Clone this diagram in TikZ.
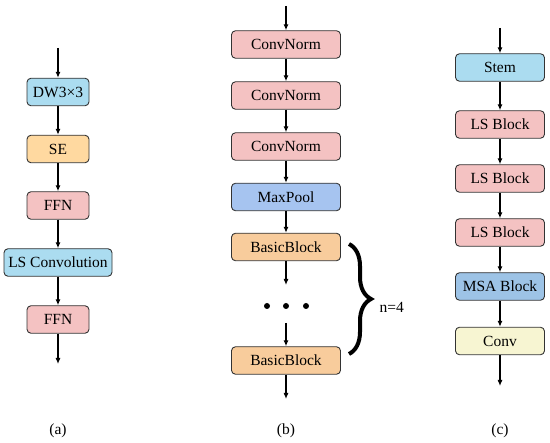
\documentclass[tikz,border=0pt]{standalone}
\usepackage{fontspec}
\setmainfont{Liberation Serif}
\usetikzlibrary{arrows.meta,decorations.pathreplacing}
\definecolor{cblue}{HTML}{ABDCF0}
\definecolor{corange}{HTML}{FFD9A0}
\definecolor{cpink}{HTML}{F4C2C2}
\definecolor{cmax}{HTML}{A6C4F0}
\definecolor{cbasic}{HTML}{F8CC9C}
\definecolor{cmsa}{HTML}{9DC3E6}
\definecolor{cconv}{HTML}{F7F5D2}
\definecolor{cedge}{HTML}{333333}
\tikzset{
  blk/.style={draw=cedge, line width=0.9pt, rounded corners=4pt, minimum height=27.5pt,
    inner sep=0pt, font=\fontsize{15.5}{18}\selectfont},
  wa/.style={blk, minimum width=62pt},
  wb/.style={blk, minimum width=109pt},
  wc/.style={blk, minimum width=89pt},
  arr/.style={line width=1.1pt, -{Latex[length=6pt,width=5pt]}},
  lbl/.style={font=\fontsize{15.5}{18}\selectfont},
  dot/.style={circle, fill=black, inner sep=0pt, minimum size=6pt}
}
\begin{document}
\begin{tikzpicture}[x=1pt,y=-1pt]
\useasboundingbox (0,0) rectangle (550,443);
% (a)
\coordinate (a0) at (58,48);
\node[wa, fill=cblue] (a1) at (58,92) {DW3×3};
\node[wa, fill=corange] (a2) at (58,149) {SE};
\node[wa, fill=cpink] (a3) at (58,205.5) {FFN};
\node[blk, minimum width=108pt, fill=cblue] (a4) at (58,262.5) {LS Convolution};
\node[wa, fill=cpink] (a5) at (58,319.5) {FFN};
\coordinate (a6) at (58,364);
\draw[arr] (a0) -- (a1);
\draw[arr] (a1) -- (a2);
\draw[arr] (a2) -- (a3);
\draw[arr] (a3) -- (a4);
\draw[arr] (a4) -- (a5);
\draw[arr] (a5) -- (a6);
\node[lbl] (la) at (58,431) {(a)};
% (b)
\coordinate (b0) at (286,6);
\node[wb, fill=cpink] (b1) at (286,44.5) {ConvNorm};
\node[wb, fill=cpink] (b2) at (286,95.5) {ConvNorm};
\node[wb, fill=cpink] (b3) at (286,146.5) {ConvNorm};
\node[wb, fill=cmax] (b4) at (286,197) {MaxPool};
\node[wb, fill=cbasic] (b5) at (286,247) {BasicBlock};
\coordinate (b6) at (286,285);
\node[dot] (d1) at (267,306) {};
\node[dot] (d2) at (286,306) {};
\node[dot] (d3) at (306,306) {};
\coordinate (b7) at (286,323);
\node[wb, fill=cbasic] (b8) at (286,360.5) {BasicBlock};
\coordinate (b9) at (286,399);
\draw[arr] (b0) -- (b1);
\draw[arr] (b1) -- (b2);
\draw[arr] (b2) -- (b3);
\draw[arr] (b3) -- (b4);
\draw[arr] (b4) -- (b5);
\draw[arr] (b5) -- (b6);
\draw[arr] (b7) -- (b8);
\draw[arr] (b8) -- (b9);
\coordinate (br1) at (349,244);
\coordinate (br2) at (349,354);
\draw[line width=4pt, decorate, decoration={brace, amplitude=22pt, aspect=0.5}] (br1) -- (br2);
\node[lbl, anchor=west] (n4) at (376,307) {n=4};
\node[lbl] (lb) at (286,431) {(b)};
% (c)
\coordinate (c0) at (500,28);
\node[wc, fill=cblue] (c1) at (500,67.5) {Stem};
\node[wc, fill=cpink] (c2) at (500,124.5) {LS Block};
\node[wc, fill=cpink] (c3) at (500,178.5) {LS Block};
\node[wc, fill=cpink] (c4) at (500,232.5) {LS Block};
\node[wc, fill=cmsa] (c5) at (500,286.5) {MSA Block};
\node[wc, fill=cconv] (c6) at (500,341) {Conv};
\coordinate (c7) at (500,386);
\draw[arr] (c0) -- (c1);
\draw[arr] (c1) -- (c2);
\draw[arr] (c2) -- (c3);
\draw[arr] (c3) -- (c4);
\draw[arr] (c4) -- (c5);
\draw[arr] (c5) -- (c6);
\draw[arr] (c6) -- (c7);
\node[lbl] (lc) at (500,431) {(c)};
\end{tikzpicture}
\end{document}
